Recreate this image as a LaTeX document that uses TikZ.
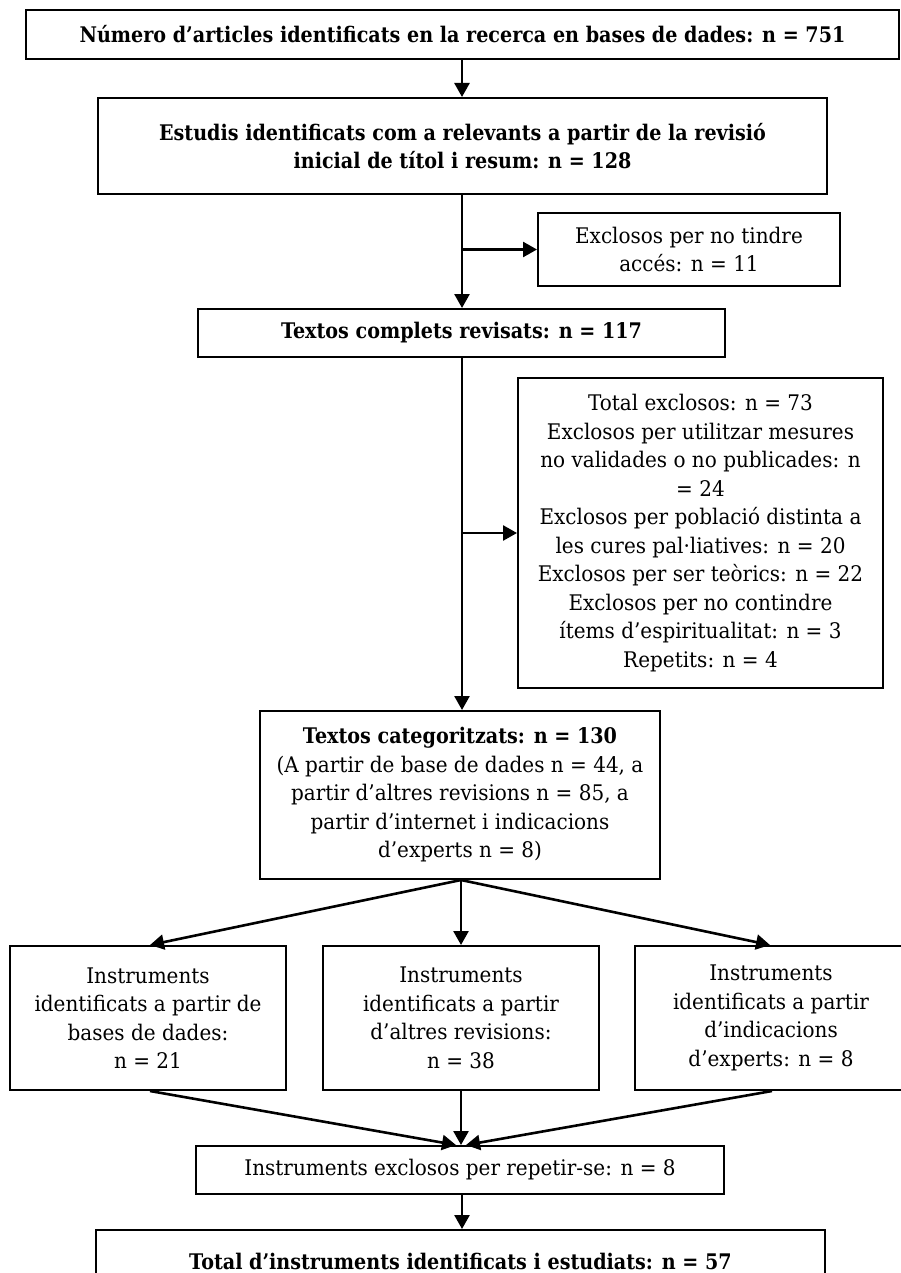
\documentclass[tikz,border=0pt]{standalone}
\usepackage{fontspec}
\setmainfont{DejaVu Serif}[FakeStretch=0.93, BoldFeatures={FakeStretch=0.89}]
\usetikzlibrary{arrows.meta}
\begin{document}
\begin{tikzpicture}[x=1pt,y=-1pt,
  flowbox/.style={draw, line width=2pt, inner sep=0pt, align=center,
    font=\fontsize{21.5}{28.5}\selectfont},
  link/.style={line width=2.6pt, -{Triangle[length=14pt,width=15pt]}}]
\useasboundingbox (0,0) rectangle (901,1273);

% main stages
\node[flowbox, minimum width=873pt, minimum height=49pt] (b1) at (462.5,34.5)
  {\textbf{Número d’articles identificats en la recerca en bases de dades: n = 751}};
\node[flowbox, minimum width=729pt, minimum height=96pt] (b2) at (462.5,146)
  {\textbf{Estudis identificats com a relevants a partir de la revisió}\\\textbf{inicial de títol i resum: n = 128}};
\node[flowbox, minimum width=302pt, minimum height=73pt] (x1) at (689,249.5)
  {Exclosos per no tindre\\accés: n = 11};
\node[flowbox, minimum width=527pt, minimum height=48pt] (b3) at (461.5,333)
  {\textbf{Textos complets revisats: n = 117}};
\node[flowbox, minimum width=365pt, minimum height=310pt] (x2) at (700.5,533)
  {Total exclosos: n = 73\\Exclosos per utilitzar mesures\\no validades o no publicades: n\\= 24\\Exclosos per població distinta a\\les cures pal·liatives: n = 20\\Exclosos per ser teòrics: n = 22\\Exclosos per no contindre\\ítems d’espiritualitat: n = 3\\Repetits: n = 4};
\node[flowbox, minimum width=400pt, minimum height=168pt] (b5) at (460,795)
  {\textbf{Textos categoritzats: n = 130}\\(A partir de base de dades n = 44, a\\partir d’altres revisions n = 85, a\\partir d’internet i indicacions\\d’experts n = 8)};

% three sources
\node[flowbox, minimum width=276pt, minimum height=144pt] (s1) at (148,1018)
  {Instruments\\identificats a partir de\\bases de dades:\\n = 21};
\node[flowbox, minimum width=276pt, minimum height=144pt] (s2) at (461,1018)
  {Instruments\\identificats a partir\\d’altres revisions:\\n = 38};
\node[flowbox, minimum width=272pt, minimum height=144pt] (s3) at (771,1018)
  {Instruments\\identificats a partir\\d’indicacions\\d’experts: n = 8};

\node[flowbox, minimum width=528pt, minimum height=48pt] (rep) at (460,1170)
  {Instruments exclosos per repetir-se: n = 8};
\node[flowbox, minimum width=729pt, minimum height=62pt, anchor=north] (fin) at (460.5,1229)
  {\textbf{Total d’instruments identificats i estudiats: n = 57}};

% connectors
\coordinate (j1) at (462,249.5);
\coordinate (j2) at (462,533);
\draw[link] (b1.south -| 462,0) -- (b2.north -| 462,0);
\draw[link] (b2.south -| 462,0) -- (b3.north -| 462,0);
\draw[link] (j1) -- (j1 -| x1.west);
\draw[link] (b3.south -| 462,0) -- (b5.north -| 462,0);
\draw[link] (j2) -- (j2 -| x2.west);
\draw[link] (b5.south -| 461,0) -- (s1.north -| 150,0);
\draw[link] (b5.south -| 461,0) -- (s2.north -| 461,0);
\draw[link] (b5.south -| 461,0) -- (s3.north -| 770,0);
\draw[link] (s1.south -| 150,0) -- (rep.north -| 456,0);
\draw[link] (s2.south -| 461,0) -- (rep.north -| 461,0);
\draw[link] (s3.south -| 772,0) -- (rep.north -| 466,0);
\draw[link] (rep.south -| 462,0) -- (fin.north -| 462,0);
\end{tikzpicture}
\end{document}
